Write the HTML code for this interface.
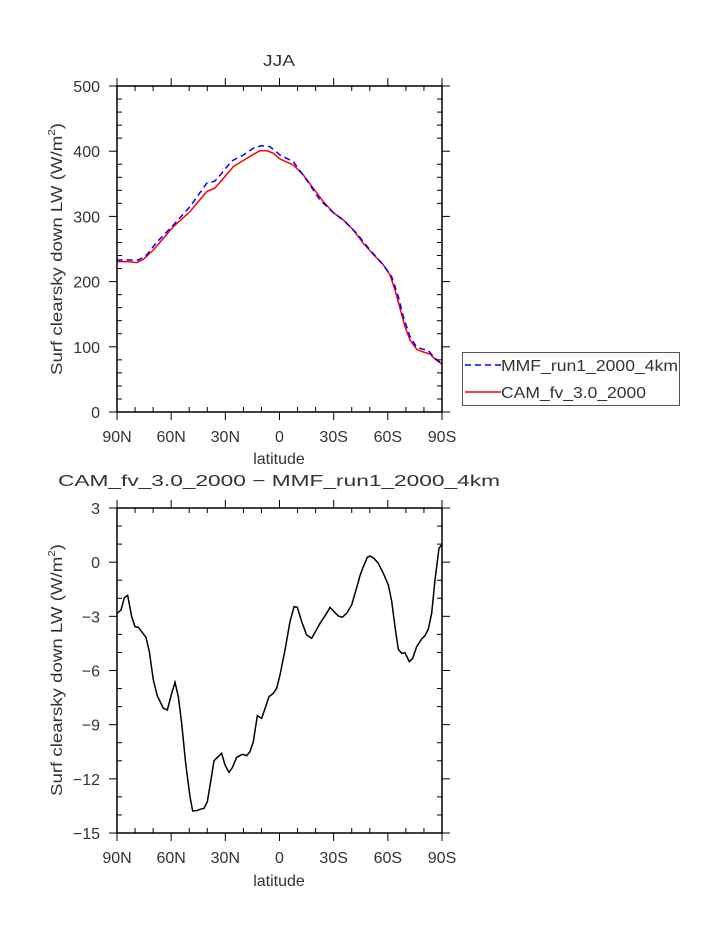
<!DOCTYPE html>
<html><head><meta charset="utf-8"><style>
html,body{margin:0;padding:0;background:#fff;}
svg{display:block;font-family:"Liberation Sans",sans-serif;}
text{fill:#333;font-size:16px;}
</style></head><body>
<svg id="s" width="723" height="935" viewBox="0 0 723 935" xmlns="http://www.w3.org/2000/svg">
<text x="263" y="66" textLength="32" lengthAdjust="spacingAndGlyphs" font-size="16">JJA</text>
<text x="58" y="486" textLength="442" lengthAdjust="spacingAndGlyphs" font-size="18">CAM_fv_3.0_2000 − MMF_run1_2000_4km</text>
<text x="279" y="464" text-anchor="middle" font-size="16">latitude</text>
<text x="279" y="886" text-anchor="middle" font-size="16">latitude</text>
<text transform="translate(62,375) rotate(-90)" textLength="252" lengthAdjust="spacingAndGlyphs" font-size="16">Surf clearsky down LW (W/m<tspan font-size="10" dy="-7">2</tspan><tspan dy="7">)</tspan></text>
<text transform="translate(62,796) rotate(-90)" textLength="252" lengthAdjust="spacingAndGlyphs" font-size="16">Surf clearsky down LW (W/m<tspan font-size="10" dy="-7">2</tspan><tspan dy="7">)</tspan></text>
<g transform="translate(40,60) scale(0.33333)">
<polyline fill="none" stroke="#ff0000" stroke-width="1.5" vector-effect="non-scaling-stroke" points="230,605 265,605 290,608 310,598 340,570 370,535 400,500 450,455 500,395 525,384 550,355 580,320 620,295 660,272 680,272 700,280 720,297 760,315 790,345 820,385 850,425 880,458 910,480 940,510 970,550 1000,583 1030,615 1050,645 1065,690 1080,745 1095,800 1110,840 1130,868 1150,876 1170,882 1185,897 1205,912"/>
<polyline fill="none" stroke="#0000ff" stroke-width="1.5" stroke-dasharray="6,4" vector-effect="non-scaling-stroke" points="230,600 260,600 295,600 320,585 350,547 400,495 450,440 500,370 525,363 545,340 575,303 610,285 640,265 665,257 690,260 720,285 760,305 800,360 840,420 880,458 910,480 950,520 990,570 1030,615 1055,650 1075,710 1090,770 1110,830 1130,862 1165,872 1185,895 1205,910"/>
</g>
<g transform="translate(40,470) scale(0.33333)">
<polyline fill="none" stroke="#000" stroke-width="1.5" vector-effect="non-scaling-stroke" points="230,432 243,420 253,383 263,376 275,440 285,470 295,472 318,502 328,545 340,630 352,678 370,715 382,720 395,670 405,637 415,680 425,760 437,880 450,980 458,1023 470,1022 480,1018 492,1015 502,995 512,935 522,872 545,850 555,885 567,907 577,893 590,862 607,853 620,857 630,845 640,815 652,737 665,745 675,716 687,680 700,670 710,655 720,615 735,540 750,455 762,410 772,412 785,455 800,495 815,505 840,460 858,433 870,412 882,425 895,438 907,442 920,430 935,405 948,360 960,317 970,290 982,262 990,258 1002,265 1015,280 1030,310 1045,345 1055,393 1065,470 1075,538 1085,550 1095,548 1108,575 1118,565 1130,530 1145,507 1155,497 1165,477 1175,430 1185,330 1197,235 1207,222"/>
</g>
<rect x="462.5" y="352.5" width="217" height="53" fill="none" stroke="#555" stroke-width="1"/>
<line x1="465" y1="365" x2="501" y2="365" stroke="#0000ff" stroke-width="1.5" stroke-dasharray="6,4"/>
<line x1="465" y1="392" x2="501" y2="392" stroke="#ff0000" stroke-width="1.5"/>
<text x="501" y="371" textLength="177" lengthAdjust="spacingAndGlyphs">MMF_run1_2000_4km</text>
<text x="501" y="398" textLength="145" lengthAdjust="spacingAndGlyphs">CAM_fv_3.0_2000</text>
<g id="ax"></g>
</svg>
<script>
var g=document.getElementById('ax'),NS='http://www.w3.org/2000/svg';
function L(x1,y1,x2,y2,w){var e=document.createElementNS(NS,'line');e.setAttribute('x1',x1);e.setAttribute('y1',y1);e.setAttribute('x2',x2);e.setAttribute('y2',y2);e.setAttribute('stroke','#000');e.setAttribute('stroke-width',w||1);g.appendChild(e);}
function T(x,y,s,a){var e=document.createElementNS(NS,'text');e.setAttribute('x',x);e.setAttribute('y',y);e.setAttribute('text-anchor',a);e.textContent=s;g.appendChild(e);}
var X0=117,X1=442;
function axes(Y0,Y1,ylabs,nminor){
 var r=document.createElementNS(NS,'rect');r.setAttribute('x',X0);r.setAttribute('y',Y0);r.setAttribute('width',X1-X0);r.setAttribute('height',Y1-Y0);r.setAttribute('fill','none');r.setAttribute('stroke','#000');r.setAttribute('stroke-width','1.5');g.appendChild(r);
 var xl=['90N','60N','30N','0','30S','60S','90S'];
 for(var i=0;i<=18;i++){var x=X0+(X1-X0)*i/18;
  if(i%3==0){L(x,Y0-8,x,Y0);L(x,Y1,x,Y1+8);T(x,Y1+30,xl[i/3],'middle');}
  else{L(x,Y0,x,Y0+5);L(x,Y1,x,Y1-5);}}
 var n=ylabs.length-1,tot=n*nminor;
 for(var j=0;j<=tot;j++){var y=Y1-(Y1-Y0)*j/tot;
  if(j%nminor==0){L(X0-8,y,X0,y);L(X1,y,X1+8,y);T(X0-17,y+6,ylabs[j/nminor],'end');}
  else{L(X0,y,X0+5,y);L(X1-5,y,X1,y);}}
}
axes(86,412,['0','100','200','300','400','500'],5);
axes(508,833,['−15','−12','−9','−6','−3','0','3'],3);
</script>
</body></html>
